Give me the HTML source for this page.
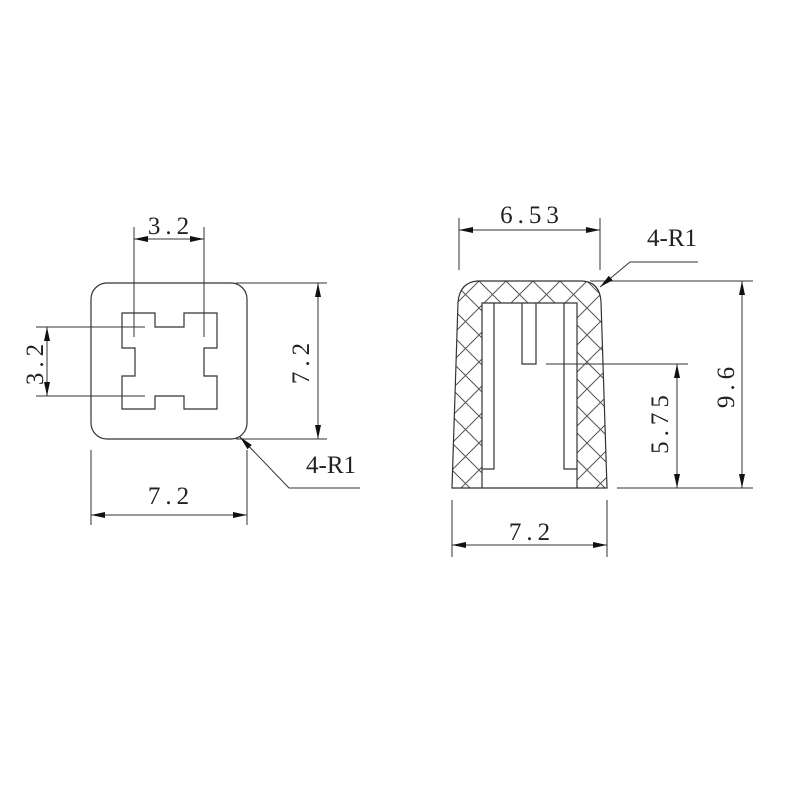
<!DOCTYPE html>
<html><head><meta charset="utf-8"><style>
html,body{margin:0;padding:0;background:#fff;}
svg text{font-family:"Liberation Serif","DejaVu Serif",serif;font-size:25px;fill:#222;letter-spacing:5px;}
</style></head><body>
<svg width="800" height="800" viewBox="0 0 800 800" xmlns="http://www.w3.org/2000/svg">
<defs>
<pattern id="h" width="27" height="27" patternUnits="userSpaceOnUse" x="452" y="281">
<path d="M0,0 L27,27 M27,0 L0,27" stroke="#555" stroke-width="1"/>
</pattern>
<marker id="a" viewBox="0 0 14 6" refX="14" refY="3" markerWidth="14" markerHeight="6" markerUnits="userSpaceOnUse" orient="auto-start-reverse">
<path d="M0,0 L14,3 L0,6 z" fill="#111"/>
</marker>
</defs>
<g stroke="#333" stroke-width="1.2" fill="none">
<rect x="91" y="283" width="156" height="156" rx="16" ry="16"/>
<path d="M122,313 H155 V327 H184 V313 H217 V348 H204 V376 H217 V409 H184 V396 H155 V409 H122 V376 H135 V348 H122 Z"/>
<line x1="134" y1="227" x2="134" y2="337" stroke-width="1"/>
<line x1="204" y1="227" x2="204" y2="337" stroke-width="1"/>
<line x1="134" y1="239" x2="204" y2="239" stroke-width="1" marker-start="url(#a)" marker-end="url(#a)"/>
<line x1="36" y1="327" x2="145" y2="327" stroke-width="1"/>
<line x1="36" y1="396" x2="145" y2="396" stroke-width="1"/>
<line x1="47" y1="327" x2="47" y2="396" stroke-width="1" marker-start="url(#a)" marker-end="url(#a)"/>
<line x1="236" y1="283" x2="327" y2="283" stroke-width="1"/>
<line x1="236" y1="439" x2="327" y2="439" stroke-width="1"/>
<line x1="318" y1="283" x2="318" y2="439" stroke-width="1" marker-start="url(#a)" marker-end="url(#a)"/>
<line x1="91" y1="450" x2="91" y2="525" stroke-width="1"/>
<line x1="247" y1="450" x2="247" y2="525" stroke-width="1"/>
<line x1="91" y1="515" x2="247" y2="515" stroke-width="1" marker-start="url(#a)" marker-end="url(#a)"/>
<polyline points="360,488 289,488 240,437" stroke-width="1" marker-end="url(#a)"/>

<path d="M452,488 L458,302 Q460,282 478,281 H582 Q600,282 601,302 L607,488 Z M482,303 V488 H577 V303 Z" fill="url(#h)" fill-rule="evenodd" stroke="none"/>
<path d="M452,488 L458,302 Q460,282 478,281 H582 Q600,282 601,302 L607,488 Z"/>
<path d="M482,488 V303 H577 V488"/>
<path d="M482,469 H494 V303 M577,469 H564 V303"/>
<path d="M522,303 V364 H536 V303"/>
<line x1="459" y1="218" x2="459" y2="270" stroke-width="1"/>
<line x1="600" y1="218" x2="600" y2="270" stroke-width="1"/>
<line x1="459" y1="230" x2="600" y2="230" stroke-width="1" marker-start="url(#a)" marker-end="url(#a)"/>
<line x1="590" y1="281" x2="753" y2="281" stroke-width="1"/>
<line x1="617" y1="488" x2="753" y2="488" stroke-width="1"/>
<line x1="742" y1="281" x2="742" y2="488" stroke-width="1" marker-start="url(#a)" marker-end="url(#a)"/>
<line x1="546" y1="364" x2="688" y2="364" stroke-width="1"/>
<line x1="677" y1="364" x2="677" y2="488" stroke-width="1" marker-start="url(#a)" marker-end="url(#a)"/>
<line x1="452" y1="500" x2="452" y2="557" stroke-width="1"/>
<line x1="607" y1="500" x2="607" y2="557" stroke-width="1"/>
<line x1="452" y1="545" x2="607" y2="545" stroke-width="1" marker-start="url(#a)" marker-end="url(#a)"/>
<polyline points="698,262 630,262 600,287" stroke-width="1" marker-end="url(#a)"/>
</g>
<g>
<text x="171" y="234" text-anchor="middle">3.2</text>
<text transform="translate(43,362) rotate(-90)" text-anchor="middle">3.2</text>
<text transform="translate(309,361) rotate(-90)" text-anchor="middle">7.2</text>
<text x="171" y="504" text-anchor="middle">7.2</text>
<text x="331" y="473" text-anchor="middle" style="letter-spacing:0">4-R1</text>
<text x="532" y="223" text-anchor="middle">6.53</text>
<text x="672" y="246" text-anchor="middle" style="letter-spacing:0">4-R1</text>
<text transform="translate(734,385) rotate(-90)" text-anchor="middle">9.6</text>
<text transform="translate(668,422) rotate(-90)" text-anchor="middle">5.75</text>
<text x="532" y="540" text-anchor="middle">7.2</text>
</g>
</svg>
</body></html>
